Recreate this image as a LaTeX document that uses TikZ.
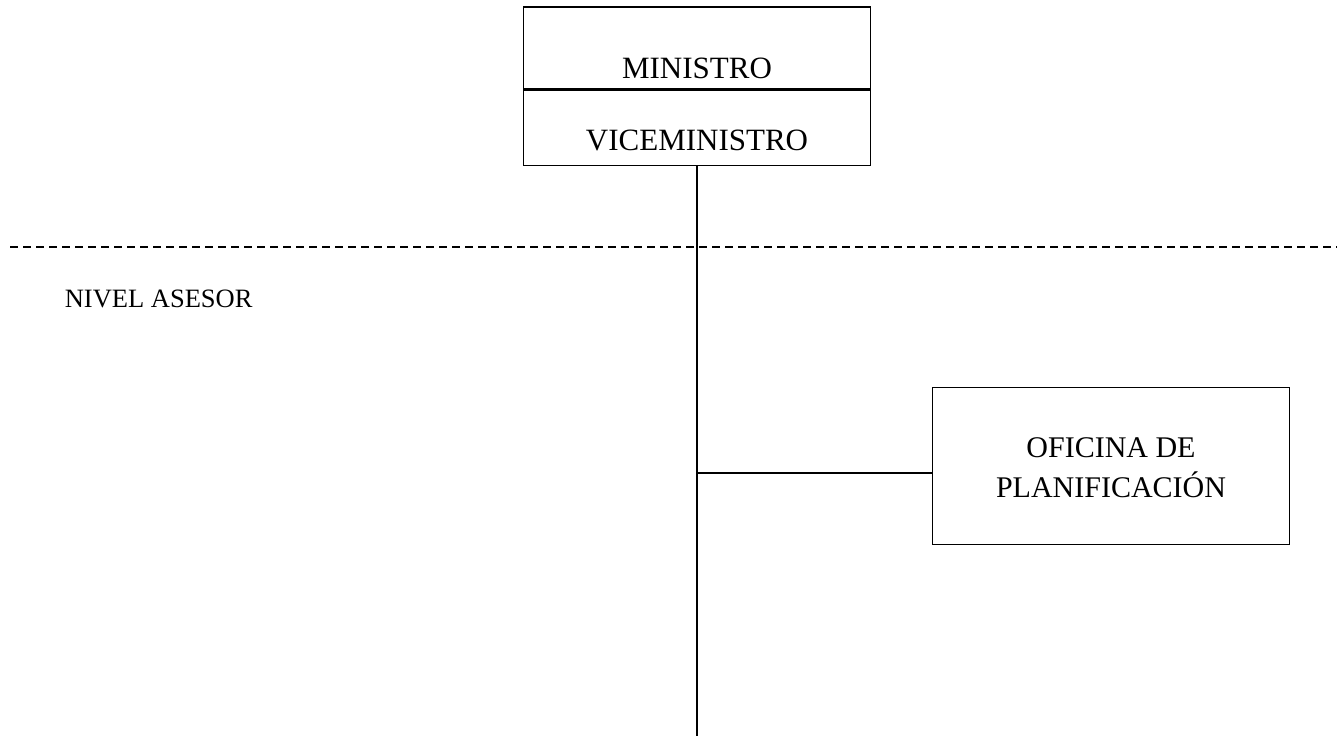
\documentclass[tikz,border=0pt]{standalone}
\usepackage{fontspec}
\setmainfont{Liberation Serif}
\usetikzlibrary{positioning}
\begin{document}
\begin{tikzpicture}[
        x=1pt, y=-1pt,
        line width=1.6pt,
        unitbox/.style={draw, rectangle, inner sep=0pt, line width=1.6pt},
        boxtext/.style={anchor=base, inner sep=0pt, font=\fontsize{31}{36}\selectfont},
        leveltext/.style={anchor=base west, inner sep=0pt, font=\fontsize{26.5}{30}\selectfont},
        levelline/.style={dash pattern=on 8pt off 5pt, line width=1.4pt}
      ]
      \useasboundingbox (0,0) rectangle (1337,736);
      % cabeza
      \node[unitbox, minimum width=347pt, minimum height=82pt] (ministro) at (697,48) {};
      \node[unitbox, minimum width=347pt, minimum height=75pt, below=0pt of ministro] (vice) {};
      \node[boxtext] (tministro) at (697,78) {MINISTRO};
      \node[boxtext] (tvice) at (697,150) {VICEMINISTRO};
      % nivel asesor
      \coordinate (dl) at (10,247);
      \coordinate (dr) at (1337,247);
      \draw[levelline] (dl) -- (dr);
      \node[leveltext] (nivel) at (64,307) {NIVEL ASESOR};
      % oficina
      \node[unitbox, minimum width=357pt, minimum height=157pt] (oficina) at (1111,466) {};
      \node[boxtext, font=\fontsize{30}{34}\selectfont] (tofi1) at (1111,457) {OFICINA DE};
      \node[boxtext, font=\fontsize{30}{34}\selectfont] (tofi2) at (1111,497) {PLANIFICACIÓN};
      \coordinate (rama) at (697,473);
      \coordinate (fin) at (697,736);
      \draw (vice.south) -- (fin);
      \draw (rama) -- (rama -| oficina.west);
\end{tikzpicture}
\end{document}
